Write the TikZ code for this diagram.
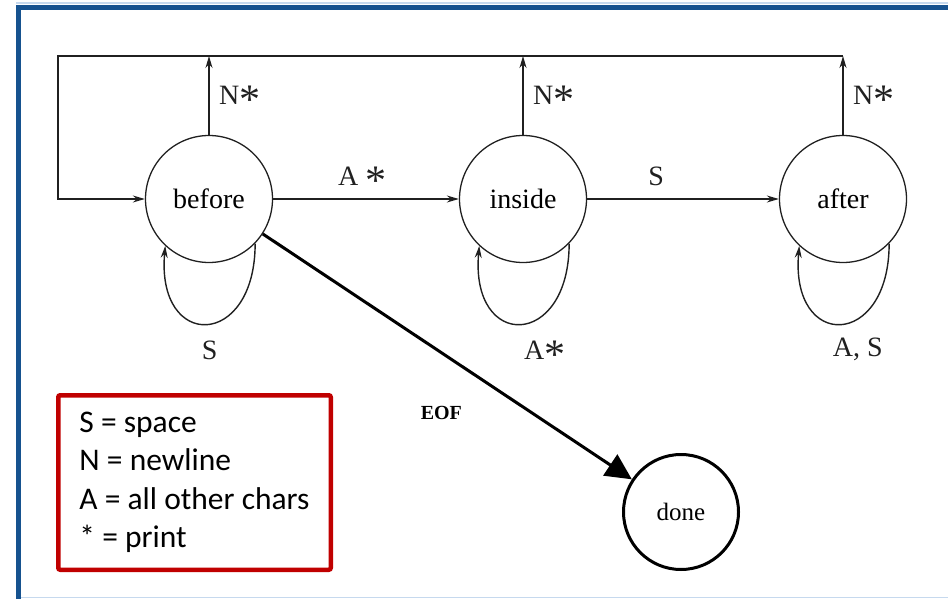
\documentclass[tikz,border=0pt]{standalone}
\usepackage{graphicx}
\usepackage{fontspec}
\setmainfont{Liberation Serif}
\newfontfamily\legendfont{Carlito}
\usetikzlibrary{arrows.meta}
\definecolor{frameblue}{HTML}{16528F}
\definecolor{framelight}{HTML}{C6D9EE}
\definecolor{legendred}{HTML}{C00000}
\definecolor{ink}{HTML}{202020}
\newcommand{\prt}{\raisebox{-0.32em}[0pt][0pt]{\scalebox{1.5}{*}}}

\begin{document}
\begin{tikzpicture}[x=1pt,y=1pt]
		\tikzstyle{state}=[circle,draw=ink,line width=1.3pt,minimum size=127pt,inner sep=0pt,font=\fontsize{28}{32}\selectfont]
		\tikzstyle{edge}=[draw=ink,line width=1.4pt,-{Stealth[length=12pt,width=7pt]}]
		\tikzstyle{lbl}=[text=ink,font=\fontsize{28}{32}\selectfont]
		\useasboundingbox (0,0) rectangle (948,-599);
		\draw[framelight,line width=1.5pt] (16,-3) -- (948,-3);
		\draw[framelight,line width=1.5pt] (20,-597.5) -- (948,-597.5);
		\draw[frameblue,line width=5pt] (948,-7.5) -- (18.5,-7.5) -- (18.5,-599);
		\node[state] (1) at (209,-199) {before};
		\node[state] (2) at (523,-199) {inside};
		\node[state] (3) at (843,-199) {after};
		\node[circle,draw,line width=3pt,minimum size=115pt,inner sep=0pt,font=\fontsize{25}{30}\selectfont] (4) at (681,-512) {done};
		\coordinate (t0) at (58,-56);
		\coordinate (t1) at (209,-56);
		\coordinate (t2) at (523,-56);
		\coordinate (t3) at (843,-56);
		\draw[edge] (1) -- node[lbl,right=6pt]{N\prt} (t1);
		\draw[edge] (2) -- node[lbl,right=6pt]{N\prt} (t2);
		\draw[edge] (3) -- node[lbl,right=6pt]{N\prt} (t3);
		\draw[edge] (t3) -- (t0) |- (1.west);
		\draw[edge] (1) -- node[lbl,above=9pt,pos=0.48]{A \prt} (2);
		\draw[edge] (2) -- node[lbl,above=9pt,pos=0.36]{S} (3);
		\draw[edge] (1.-44) to[out=-90,in=-95,looseness=3] node[lbl,below=13pt,xshift=3pt]{S} (1.-133);
		\draw[edge] (2.-44) to[out=-90,in=-95,looseness=3] node[lbl,below=13pt,xshift=24pt]{A\prt} (2.-133);
		\draw[edge] (3.-44) to[out=-90,in=-95,looseness=3] node[lbl,below=10pt,xshift=17pt]{A, S} (3.-133);
		\draw[line width=3pt,-{Triangle[length=26pt,width=25pt]}] (1.-33) -- node[below=45pt,xshift=-6pt,font=\bfseries\fontsize{20}{24}\selectfont]{EOF} (4);
		\node[draw=legendred,line width=4.5pt,rounded corners=2pt,minimum width=272.5pt,minimum height=174.5pt,align=left,font=\legendfont\fontsize{31.5}{38.5}\selectfont] (5) at (194.5,-482.5) {S = space\\N = newline\\A = all other chars\\* = print};
\end{tikzpicture}
\end{document}
